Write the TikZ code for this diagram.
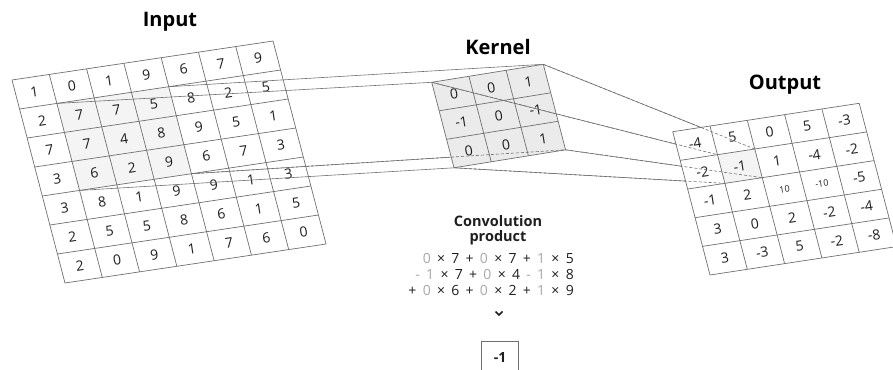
\documentclass[tikz,border=0pt]{standalone}
\usepackage{fontspec}
\setmainfont{Open Sans}
\usetikzlibrary{arrows.meta,positioning}

\definecolor{gridgray}{HTML}{707070}
\definecolor{numink}{HTML}{1E1E1E}
\definecolor{patchfill}{HTML}{F4F4F4}
\definecolor{kernfill}{HTML}{EBEBEB}
\definecolor{coefgray}{HTML}{A8A8A8}
\newcommand{\kc}[1]{\textcolor{coefgray}{#1}}
\newcommand{\smallnum}[1]{{\fontsize{9}{10}\selectfont #1}}
\newcommand{\sumfont}{\fontsize{14}{16}\selectfont\spaceskip 6.3pt\relax}

\begin{document}
\begin{tikzpicture}[x=1pt, y=-1pt,
 in frame/.style={shift={(12pt,-80pt)}, x={(37.29pt,5.57pt)}, y={(7.57pt,-29pt)}},
 ker frame/.style={shift={(431.7pt,-82.3pt)}, x={(37.2pt,6pt)}, y={(7.43pt,-28.5pt)}},
 out frame/.style={shift={(672.7pt,-131.7pt)}, x={(37.3pt,5.68pt)}, y={(7.46pt,-28.66pt)}},
 grid line/.style={draw=gridgray, line width=0.7pt},
 link/.style={draw=gridgray, line width=0.6pt},
 hidden link/.style={link, dash pattern=on 3pt off 2pt},
 cell/.style={font=\fontsize{14}{16}\selectfont, text=numink, inner sep=0pt, rotate=8.5},
 title/.style={font=\fontsize{20}{24}\selectfont\bfseries},
 every node/.style={align=center}]
\useasboundingbox (0,0) rectangle (893,369);
\clip (0,0) rectangle (893,369);

% input 7x7, patch under the kernel is rows/cols 1..3
\begin{scope}[in frame]
 \fill[white] (0,0) -- (7,0) -- (7,7) -- (0,7) -- cycle;
 \fill[patchfill] (1,1) -- (4,1) -- (4,4) -- (1,4) -- cycle;
 \foreach \i in {0,...,7} {\draw[grid line] (\i,0) -- (\i,7); \draw[grid line] (0,\i) -- (7,\i);}
 \foreach \row [count=\r from 0] in {{1,0,1,9,6,7,9},{2,7,7,5,8,2,5},{7,7,4,8,9,5,1},
   {3,6,2,9,6,7,3},{3,8,1,9,9,1,3},{2,5,5,8,6,1,5},{2,0,9,1,7,6,0}} {
  \foreach \v [count=\c from 0] in \row {\node[cell] (in-\r-\c) at (\c+0.5,\r+0.5) {\v};}
 }
 \coordinate (pTL) at (1,1); \coordinate (pTR) at (4,1);
 \coordinate (pBL) at (1,4); \coordinate (pBR) at (4,4);
\end{scope}

% corners needed before the layers are drawn
\begin{scope}[ker frame]
 \coordinate (kTL) at (0,0); \coordinate (kTR) at (3,0);
 \coordinate (kBL) at (0,3); \coordinate (kBR) at (3,3);
\end{scope}
\begin{scope}[out frame]
 \coordinate (oTL) at (1,1); \coordinate (oTR) at (2,1);
 \coordinate (oBL) at (1,2); \coordinate (oBR) at (2,2);
\end{scope}

\foreach \c in {TL,TR,BL,BR} {\draw[link] (p\c) -- (k\c);}

% kernel
\begin{scope}[ker frame]
 \fill[kernfill] (0,0) -- (3,0) -- (3,3) -- (0,3) -- cycle;
 \foreach \i in {0,...,3} {\draw[grid line] (\i,0) -- (\i,3); \draw[grid line] (0,\i) -- (3,\i);}
 \foreach \row [count=\r from 0] in {{0,0,1},{-1,0,-1},{0,0,1}} {
  \foreach \v [count=\c from 0] in \row {\node[cell, rotate=0.7] (ker-\r-\c) at (\c+0.5,\r+0.5) {\v};}
 }
\end{scope}
\draw[hidden link] (pBR) -- (kBR);

\foreach \c in {TL,TR,BL,BR} {\draw[link] (k\c) -- (o\c);}

% output 5x5
\begin{scope}[out frame]
 \fill[white] (0,0) -- (5,0) -- (5,5) -- (0,5) -- cycle;
 \fill[patchfill] (1,1) -- (2,1) -- (2,2) -- (1,2) -- cycle;
 \foreach \i in {0,...,5} {\draw[grid line] (\i,0) -- (\i,5); \draw[grid line] (0,\i) -- (5,\i);}
 \foreach \row [count=\r from 0] in {{-4,5,0,5,-3},{-2,-1,1,-4,-2},{-1,2,\smallnum{10},\smallnum{-10},-5},
   {3,0,2,-2,-4},{3,-3,5,-2,-8}} {
  \foreach \v [count=\c from 0] in \row {\node[cell] (out-\r-\c) at (\c+0.5,\r+0.5) {\v};}
 }
\end{scope}
\foreach \c in {TL,TR,BL,BR} {\draw[hidden link] (k\c) -- (o\c);}

\node[title] (input title) at (170,22) {Input};
\node[title] (kernel title) at (498,47) {Kernel};
\node[title] (output title) at (785,85) {Output};

\node[font=\fontsize{14.5}{14.5}\selectfont\bfseries, text=numink] (conv title) at (498,230) {Convolution\\product};
\node[font=\sumfont, text=numink, align=right, inner sep=0pt, anchor=east] (conv sum) at (574,274)
 {\kc{0} × 7 + \kc{0} × 7 + \kc{1} × 5\\
  \kc{- 1} × 7 + \kc{0} × 4 \kc{- 1} × 8\\
  + \kc{0} × 6 + \kc{0} × 2 + \kc{1} × 9};

\coordinate (chev) at (499,313);
\draw[numink, line width=1.6pt] ([xshift=-3.5pt,yshift=1.5pt]chev) -- ([yshift=-2pt]chev) -- ([xshift=3.5pt,yshift=1.5pt]chev);

\node[draw=gridgray, line width=0.8pt, minimum width=37pt, minimum height=32pt,
 font=\fontsize{14}{16}\selectfont\bfseries, text=numink] (result) at (500,357) {-1};
\end{tikzpicture}
\end{document}
